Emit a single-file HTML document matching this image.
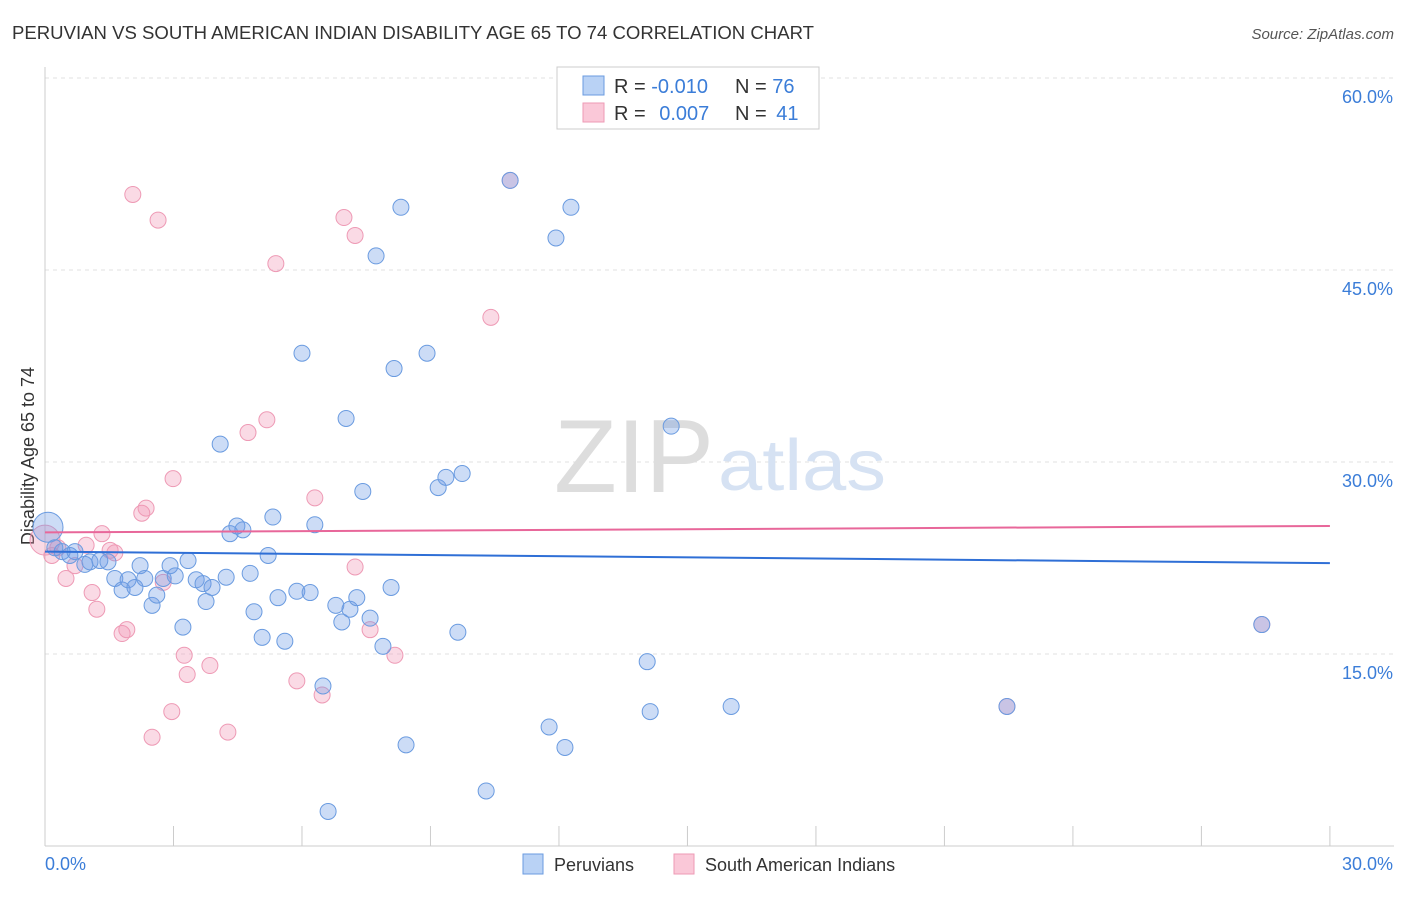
<!DOCTYPE html>
<html><head><meta charset="utf-8"><style>
body{margin:0;background:#fff;font-family:"Liberation Sans",sans-serif;}
svg text{font-family:"Liberation Sans",sans-serif;}
</style></head><body>
<svg id="c" width="1406" height="892">
<text x="12" y="39" font-size="18" fill="#333" textLength="802" lengthAdjust="spacingAndGlyphs">PERUVIAN VS SOUTH AMERICAN INDIAN DISABILITY AGE 65 TO 74 CORRELATION CHART</text>
<text x="1394" y="39" font-size="15" fill="#555" font-style="italic" text-anchor="end">Source: ZipAtlas.com</text>
<text x="34" y="456" font-size="18" fill="#333" text-anchor="middle" transform="rotate(-90 34 456)">Disability Age 65 to 74</text>
<g id="grid"></g>
<g id="ticks"></g>
<text x="554" y="492" font-size="104" fill="#ddd" textLength="160" lengthAdjust="spacingAndGlyphs" font-family="Liberation Serif">ZIP</text>
<text x="718" y="490" font-size="72" fill="#d6e2f3" textLength="168" lengthAdjust="spacingAndGlyphs">atlas</text>
<g id="pts"></g>
<g id="trend"></g>
<g>
<rect x="557" y="67" width="262" height="62" fill="#fff" stroke="#ccc"/>
<rect x="583" y="76" width="21" height="19" fill="#b9d2f5" stroke="#6a9be0"/>
<rect x="583" y="103" width="21" height="19" fill="#fac8d8" stroke="#ee9ab5"/>
<text x="614" y="93" font-size="20" fill="#333">R = <tspan fill="#3b7dd8">-0.010</tspan></text>
<text x="735" y="93" font-size="20" fill="#333">N = <tspan fill="#3b7dd8">76</tspan></text>
<text x="614" y="120" font-size="20" fill="#333">R = <tspan fill="#3b7dd8" dx="8">0.007</tspan></text>
<text x="735" y="120" font-size="20" fill="#333">N = <tspan fill="#3b7dd8" dx="4">41</tspan></text>
</g>
<g>
<rect x="523" y="854" width="20" height="20" fill="#b9d2f5" stroke="#6a9be0"/>
<text x="554" y="871" font-size="18" fill="#333">Peruvians</text>
<rect x="674" y="854" width="20" height="20" fill="#fac8d8" stroke="#ee9ab5"/>
<text x="705" y="871" font-size="18" fill="#333">South American Indians</text>
</g>
</svg>
<script>
const blueX=[0.07,0.23,0.40,0.58,0.70,0.93,1.05,1.28,1.47,1.63,1.80,1.94,2.10,2.22,2.33,2.50,2.61,2.76,2.92,3.04,3.22,3.34,3.53,3.69,3.76,3.90,4.09,4.23,4.32,4.48,4.62,4.79,4.88,5.07,5.21,5.32,5.44,5.60,5.88,6.00,6.19,6.30,6.49,6.61,6.79,6.93,7.03,7.12,7.28,7.42,7.59,7.73,7.89,8.08,8.15,8.31,8.43,8.92,9.18,9.36,9.64,9.74,10.30,10.86,11.77,11.93,12.14,12.28,14.06,14.13,14.62,16.02,22.46,28.41];
const blueY=[24.9,23.3,23.0,22.7,23.0,22.0,22.2,22.3,22.2,20.9,20.0,20.8,20.2,21.9,20.9,18.8,19.6,20.9,21.9,21.1,17.1,22.3,20.8,20.5,19.1,20.2,31.4,21.0,24.4,25.0,24.7,21.3,18.3,16.3,22.7,25.7,19.4,16.0,19.9,38.5,19.8,25.1,12.5,2.7,18.8,17.5,33.4,18.5,19.4,27.7,17.8,46.1,15.6,20.2,37.3,49.9,7.9,38.5,28.0,28.8,16.7,29.1,4.3,52.0,9.3,47.5,7.7,49.9,14.4,10.5,32.8,10.9,10.9,17.3];
const pinkX=[0,0.16,0.30,0.49,0.70,0.96,1.10,1.21,1.33,1.52,1.63,1.80,1.91,2.05,2.26,2.36,2.50,2.64,2.76,2.96,2.99,3.25,3.32,3.85,4.27,4.74,5.18,5.39,5.88,6.30,6.47,6.98,7.24,7.24,7.59,8.17,10.41,10.86,22.46,28.41];
const pinkY=[23.9,22.7,23.3,20.9,21.9,23.5,19.8,18.5,24.4,23.1,22.9,16.6,16.9,50.9,26.0,26.4,8.5,48.9,20.6,10.5,28.7,14.9,13.4,14.1,8.9,32.3,33.3,45.5,12.9,27.2,11.8,49.1,47.7,21.8,16.9,14.9,41.3,52.0,10.9,17.3];
const blueTrend=[23.0,22.1];
const pinkTrend=[24.5,25.0];
const xTicks=[0,3,6,9,12,15,18,21,24,27,30];
const yTicks=[15,30,45,60];
const NS="http://www.w3.org/2000/svg";
const sx=v=>45+v*42.83, sy=v=>846-v*12.8;
function mk(t,a,p){const e=document.createElementNS(NS,t);for(const k in a)e.setAttribute(k,a[k]);p.appendChild(e);return e;}
const grid=document.getElementById('grid'),ticks=document.getElementById('ticks'),pts=document.getElementById('pts'),trend=document.getElementById('trend');
const ax=mk('line',{x1:45,y1:67,x2:45,y2:846,stroke:'#ccc'},ticks);


const bx=mk('line',{x1:45,y1:846,x2:1394,y2:846,stroke:'#ccc'},ticks);


yTicks.forEach(v=>{
 const l=mk('line',{x1:45,y1:sy(v),x2:1394,y2:sy(v),stroke:'#e2e2e2','stroke-dasharray':'4,4'},grid);
 
 
 const t=mk('text',{x:1393,y:sy(v)+25,'font-size':18,fill:'#3b7dd8','text-anchor':'end'},ticks);
 t.textContent=v.toFixed(1)+'%';
 
 
});
xTicks.forEach(v=>{
 const l=mk('line',{x1:sx(v),y1:826,x2:sx(v),y2:846,stroke:'#ccc'},ticks);
 
 
});
[[0,'0.0%','start',45],[30,'30.0%','end',1393]].forEach(([v,s,a,x])=>{
 const t=mk('text',{x:x,y:870,'font-size':18,fill:'#3b7dd8','text-anchor':a},ticks);
 t.textContent=s;
 
 
});
function dots(X,Y,fill,stroke,name){
 X.forEach((x,i)=>{
  const r=(i===0)?15:8;
  const c=mk('circle',{cx:sx(x),cy:sy(Y[i]),r:r,fill:fill,stroke:stroke,'stroke-width':1},pts);
  
  
 });
}
dots(pinkX,pinkY,'rgba(240,150,180,0.35)','#ee9ab5','point-south-american-indian');
dots(blueX,blueY,'rgba(110,155,230,0.35)','#6a9be0','point-peruvian');
const bl=mk('line',{x1:sx(0),y1:sy(blueTrend[0]),x2:sx(30),y2:sy(blueTrend[1]),stroke:'#2f6fd6','stroke-width':2},trend);


const pl=mk('line',{x1:sx(0),y1:sy(pinkTrend[0]),x2:sx(30),y2:sy(pinkTrend[1]),stroke:'#e8679a','stroke-width':2},trend);


</script>
</body></html>
